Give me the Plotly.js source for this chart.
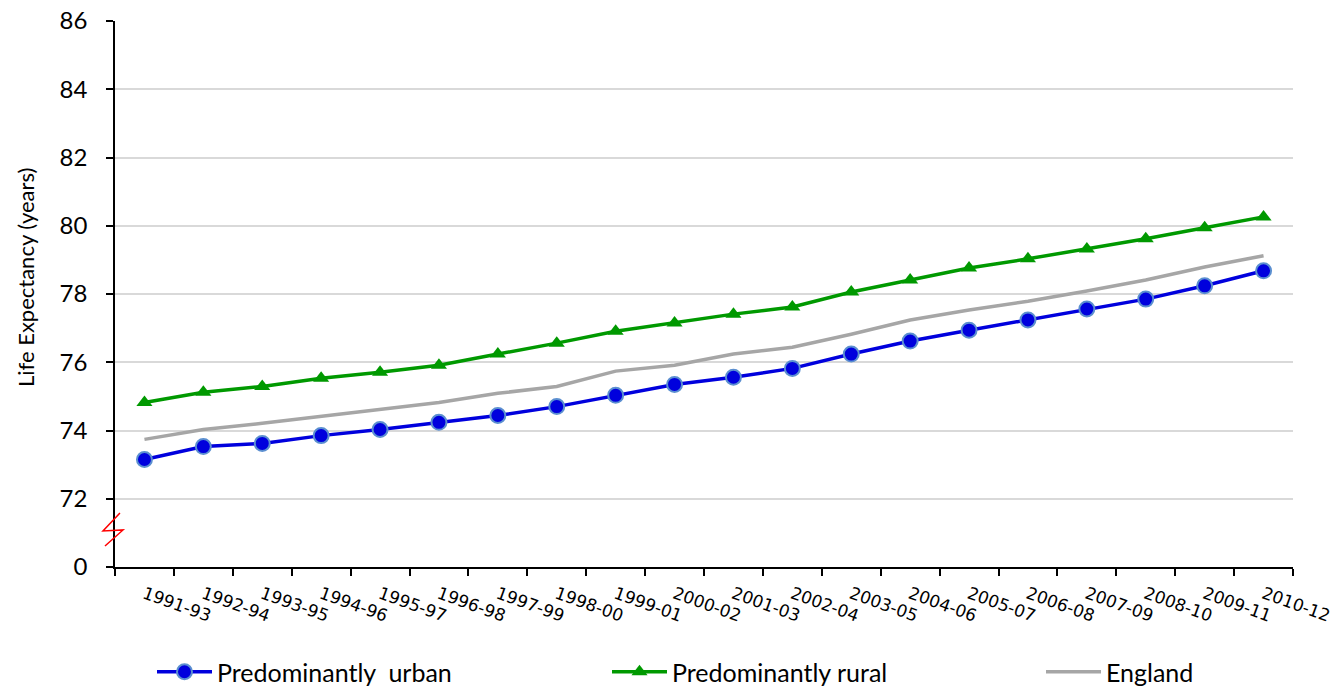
<!DOCTYPE html>
<html>
<head>
<meta charset="utf-8">
<script src="https://cdn.plot.ly/plotly-3.0.1.min.js"></script>
<style>html,body{margin:0;padding:0;background:#fff;}#chart{width:1333px;height:686px;}</style>
</head>
<body>
<div id="chart"></div>
<script>
const periods = ["1991-93","1992-94","1993-95","1994-96","1995-97","1996-98","1997-99","1998-00","1999-01","2000-02","2001-03","2002-04","2003-05","2004-06","2005-07","2006-08","2007-09","2008-10","2009-11","2010-12"];
const urban = [73.15,73.53,73.62,73.85,74.03,74.24,74.44,74.7,75.03,75.35,75.56,75.82,76.24,76.62,76.94,77.24,77.56,77.85,78.24,78.68];
const rural = [74.82,75.12,75.29,75.53,75.71,75.91,76.24,76.56,76.91,77.15,77.41,77.62,78.06,78.41,78.76,79.03,79.32,79.62,79.94,80.26];
const england = [73.74,74.03,74.21,74.41,74.62,74.82,75.09,75.29,75.74,75.91,76.24,76.44,76.82,77.24,77.53,77.79,78.09,78.41,78.79,79.12];
const yTickVals = [70,72,74,76,78,80,82,84,86];
const yTickText = ["0","72","74","76","78","80","82","84","86"];
const yTitle = "Life Expectancy (years)";

const FONT = "Lato, 'Liberation Sans', sans-serif";
const XFONT = "'DejaVu Sans', sans-serif";
const legendFont = {family: FONT, size: 25, color: "#000"};

const traces = [
  {x: periods, y: urban, name: "Predominantly  urban", type: "scatter", mode: "lines+markers", legend: "legend",
   line: {color: "#0000DD", width: 3.5},
   marker: {symbol: "circle", size: 15, color: "#0000DD", line: {color: "#5B8FD0", width: 2}}},
  {x: periods, y: rural, name: "Predominantly rural", type: "scatter", mode: "lines+markers", legend: "legend2",
   line: {color: "#009900", width: 3.5},
   marker: {symbol: "triangle-up", size: 14, color: "#009900"}},
  {x: periods, y: england, name: "England", type: "scatter", mode: "lines", legend: "legend3",
   line: {color: "#A6A6A6", width: 3.5}}
];

function leg(xpx) {
  return {orientation: "h", xref: "container", yref: "container", x: xpx / 1333, y: 14 / 686,
          xanchor: "left", yanchor: "middle", font: legendFont, itemwidth: 55,
          bgcolor: "rgba(0,0,0,0)", borderwidth: 0};
}

const layout = {
  width: 1333, height: 686,
  margin: {l: 115, r: 40, t: 21, b: 119, autoexpand: false},
  paper_bgcolor: "#fff", plot_bgcolor: "#fff",
  font: {family: FONT, color: "#000"},
  showlegend: true,
  legend: leg(152),
  legend2: leg(607),
  legend3: leg(1041),
  xaxis: {
    type: "category", range: [-0.5, 19.5], tickson: "boundaries",
    showline: true, linecolor: "#000", linewidth: 1.5,
    ticks: "outside", ticklen: 7, tickcolor: "#000", tickwidth: 1.5,
    showgrid: false, zeroline: false, tickangle: 20, ticklabelstandoff: 9,
    tickfont: {family: XFONT, size: 17, color: "#000"}
  },
  yaxis: {
    range: [70, 86], tickvals: yTickVals, ticktext: yTickText,
    showline: true, linecolor: "#000", linewidth: 1.5,
    ticks: "outside", ticklen: 7, tickcolor: "#000", tickwidth: 1.5,
    showgrid: true, gridcolor: "#D9D9D9", gridwidth: 1.5, zeroline: false,
    ticklabelstandoff: 14,
    tickfont: {family: FONT, size: 24, color: "#000"}
  },
  annotations: [
    {text: yTitle, xref: "paper", yref: "paper", x: (25 - 115) / 1178, y: (567 - 278) / 546,
     xanchor: "center", yanchor: "middle", textangle: -90, showarrow: false,
     font: {family: FONT, size: 22, color: "#000"}}
  ],
  shapes: [
    {type: "path", xref: "paper", yref: "paper", layer: "above",
     path: "M 0.0042 0.0989 L -0.0102 0.0659 L 0.0068 0.0678 L -0.0085 0.0385",
     line: {color: "#FF0000", width: 1.5}}
  ]
};

Plotly.newPlot("chart", traces, layout, {displayModeBar: false, responsive: false});
</script>
</body>
</html>
